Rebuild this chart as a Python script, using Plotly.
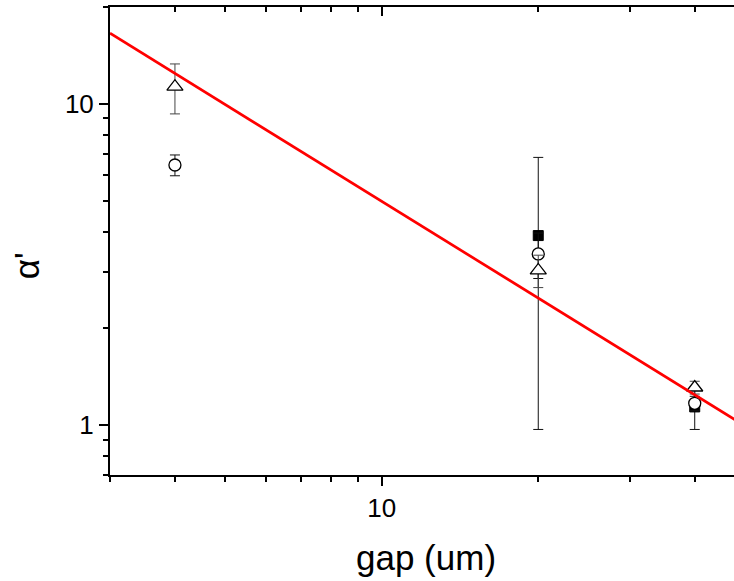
import plotly.graph_objects as go

# ---- data ----
sq_x = [20, 40]
sq_y = [3.89, 1.14]
sq_err = [2.92, 0.17]

ci_x = [4, 20, 40]
ci_y = [6.45, 3.41, 1.17]
ci_err = [0.48, 0.55, 0.06]

tr_x = [4, 20, 40]
tr_y = [11.3, 3.03, 1.31]
tr_err = [2.0, 0.35, 0.06]

fit_x = [3, 50]
fit_y = [16.57, 0.994]

x_major = [10]
x_minor = [3, 4, 5, 6, 7, 8, 9, 20, 30, 40]
y_major = [1, 10]
y_minor = [0.7, 0.8, 0.9, 2, 3, 4, 5, 6, 7, 8, 9, 20]

FONT = "Arial, Liberation Sans, sans-serif"
x_range = [0.47712, 1.6776]
y_range = [-0.15490, 1.30103]

fig = go.Figure()

fig.add_trace(go.Scatter(
    x=sq_x, y=sq_y, mode="markers",
    marker=dict(symbol="square", size=10, color="black", line=dict(color="black", width=1)),
    error_y=dict(type="data", array=sq_err, visible=True, width=5, thickness=1, color="#111"),
    showlegend=False, hoverinfo="x+y"))

fig.add_trace(go.Scatter(
    x=ci_x, y=ci_y, mode="markers",
    marker=dict(symbol="circle", size=12, color="white", line=dict(color="black", width=1.3)),
    error_y=dict(type="data", array=ci_err, visible=True, width=5, thickness=1, color="#111"),
    showlegend=False, hoverinfo="x+y"))

fig.add_trace(go.Scatter(
    x=tr_x, y=tr_y, mode="markers",
    marker=dict(symbol="triangle-up", size=14, color="white", line=dict(color="black", width=1.3)),
    error_y=dict(type="data", array=tr_err, visible=True, width=5, thickness=1, color="#444"),
    showlegend=False, hoverinfo="x+y"))

fig.add_trace(go.Scatter(
    x=fit_x, y=fit_y, mode="lines",
    line=dict(color="#ff0000", width=2.7),
    showlegend=False, hoverinfo="skip"))

# invisible trace to activate the top axis
fig.add_trace(go.Scatter(x=[10], y=[1], xaxis="x2", mode="markers",
                         marker=dict(opacity=0), showlegend=False, hoverinfo="skip"))

axis_common = dict(type="log", showgrid=False, zeroline=False, automargin=False,
                   showline=True, linecolor="black", linewidth=2,
                   tickcolor="black", tickwidth=2)

fig.update_layout(
    width=734, height=581,
    margin=dict(l=110, r=0, t=7, b=106, autoexpand=False),
    paper_bgcolor="white", plot_bgcolor="white",
    font=dict(family=FONT, color="black"),
    xaxis=dict(**axis_common, range=x_range, ticks="outside", ticklen=9,
               tickmode="array", tickvals=x_major, ticktext=["10"],
               tickfont=dict(size=26, family=FONT),
               minor=dict(tickmode="array", tickvals=x_minor, ticks="outside",
                          ticklen=5, tickwidth=2, tickcolor="black")),
    xaxis2=dict(**axis_common, range=x_range, overlaying="x", side="top", anchor="y",
                ticks="inside", ticklen=9, showticklabels=False,
                tickmode="array", tickvals=x_major,
                minor=dict(tickmode="array", tickvals=x_minor, ticks="inside",
                           ticklen=5, tickwidth=2, tickcolor="black")),
    yaxis=dict(**axis_common, range=y_range, ticks="outside", ticklen=9,
               tickmode="array", tickvals=y_major, ticktext=["1", "10"],
               tickfont=dict(size=26, family=FONT),
               minor=dict(tickmode="array", tickvals=y_minor, ticks="outside",
                          ticklen=5, tickwidth=2, tickcolor="black")),
    annotations=[
        dict(text="gap (um)", xref="paper", yref="paper", x=0.506, y=-0.177,
             xanchor="center", yanchor="middle", showarrow=False,
             font=dict(size=35, family=FONT, color="black")),
        dict(text="α'", xref="paper", yref="paper", x=-0.134, y=0.447,
             xanchor="center", yanchor="middle", textangle=-90, showarrow=False,
             font=dict(size=35, family=FONT, color="black")),
    ],
)

fig.write_html("out.html",
               config={"displayModeBar": False},
               post_script="document.body.style.margin='0';document.body.style.overflow='hidden';")
